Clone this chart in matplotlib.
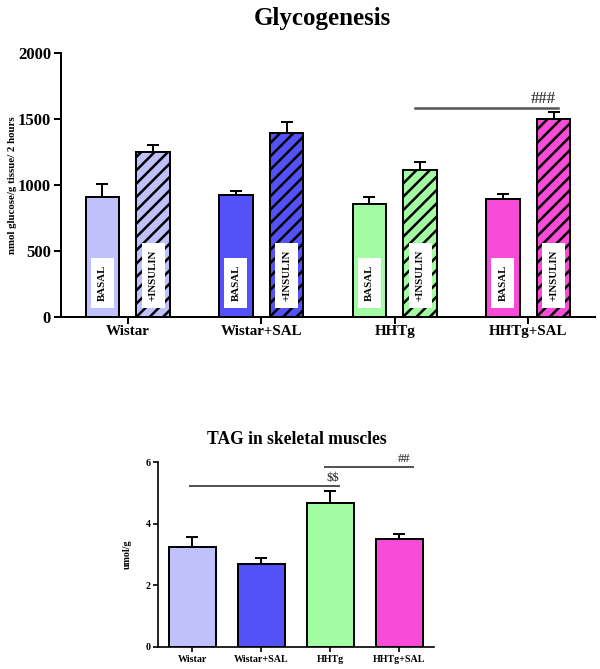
import matplotlib
matplotlib.use("Agg")
import matplotlib.pyplot as plt
import numpy as np

plt.rcParams['font.family'] = ['Liberation Serif', 'DejaVu Serif']
plt.rcParams['font.weight'] = 'bold'
plt.rcParams['hatch.linewidth'] = 1.5
plt.rcParams['text.parse_math'] = False

groups = ["Wistar", "Wistar+SAL", "HHTg", "HHTg+SAL"]
colors = ["#c0c0fc", "#5252f8", "#a2fca2", "#f84cd8"]

# Glycogenesis (nmol glucose/g tissue/2 hours)
basal = [910, 920, 855, 890]
basal_err = [95, 30, 50, 42]
insulin = [1245, 1390, 1115, 1500]
insulin_err = [53, 85, 60, 52]

# TAG in skeletal muscles (umol/g)
tag = [3.23, 2.68, 4.67, 3.49]
tag_err = [0.35, 0.22, 0.38, 0.16]

fig = plt.figure(figsize=(5, 5.575), dpi=120)

# ---------------- Top chart ----------------
ax = fig.add_axes([0.1017, 0.5262, 0.89, 0.395])
x = np.arange(len(groups))
off = 0.19
w = 0.25
ax.bar(x - off, basal, w, color=colors, edgecolor='black', linewidth=1.2, zorder=2)
ax.bar(x + off, insulin, w, color=colors, edgecolor='black', linewidth=1.2,
       hatch='///', zorder=2)
ax.errorbar(x - off, basal, yerr=[np.zeros(4), basal_err], fmt='none',
            ecolor='black', elinewidth=1.2, capsize=3.5, capthick=1.2, zorder=1)
ax.errorbar(x + off, insulin, yerr=[np.zeros(4), insulin_err], fmt='none',
            ecolor='black', elinewidth=1.2, capsize=3.5, capthick=1.2, zorder=1)

for i in range(len(groups)):
    ax.text(x[i] - off, 120, "BASAL", rotation=90, ha='center', va='bottom',
            fontsize=6.5, fontweight='bold',
            bbox=dict(boxstyle='square,pad=0.65', fc='white', ec='none'), zorder=4)
    ax.text(x[i] + off, 120, "+INSULIN", rotation=90, ha='center', va='bottom',
            fontsize=6.5, fontweight='bold',
            bbox=dict(boxstyle='square,pad=0.65', fc='white', ec='none'), zorder=4)

ax.plot([2.15, 3.22], [1578, 1578], color='#555555', lw=1.5, clip_on=False)
ax.text(3.21, 1590, "###", ha='right', va='bottom', fontsize=10, color='#444444')

ax.set_xlim(-0.5, 3.5)
ax.set_ylim(0, 2000)
ax.set_yticks([0, 500, 1000, 1500, 2000])
ax.set_xticks(x)
ax.set_xticklabels(groups, fontsize=9, fontweight='bold')
ax.tick_params(axis='y', labelsize=10, width=1.2, length=4, pad=2)
ax.tick_params(axis='x', width=1.2, length=4, pad=1)
for s in ['top', 'right']:
    ax.spines[s].set_visible(False)
for s in ['left', 'bottom']:
    ax.spines[s].set_linewidth(1.2)
ax.set_ylabel("nmol glucose/g tissue/ 2 hours", fontsize=6.5, fontweight='bold')
ax.yaxis.set_label_coords(-0.083, 0.5)
fig.text(322 / 600, 1 - 18 / 669, "Glycogenesis", ha='center', va='center',
         fontsize=15, fontweight='bold')

# ---------------- Bottom chart ----------------
ax2 = fig.add_axes([0.2633, 0.0329, 0.46, 0.2765])
ax2.bar(x, tag, 0.67, color=colors, edgecolor='black', linewidth=1.2, zorder=2)
ax2.errorbar(x, tag, yerr=[np.zeros(4), tag_err], fmt='none', ecolor='black',
             elinewidth=1.2, capsize=3.5, capthick=1.2, zorder=1)
ax2.plot([-0.03, 2.12], [5.22, 5.22], color='#555555', lw=1.2, clip_on=False)
ax2.text(2.04, 5.28, "$$", ha='center', va='bottom', fontsize=7.5, color='#444444')
ax2.plot([1.92, 3.19], [5.85, 5.85], color='#555555', lw=1.2, clip_on=False)
ax2.text(3.06, 5.91, "##", ha='center', va='bottom', fontsize=7.5, color='#444444',
         clip_on=False)
ax2.set_xlim(-0.5, 3.5)
ax2.set_ylim(0, 6)
ax2.set_yticks([0, 2, 4, 6])
ax2.set_xticks(x)
ax2.set_xticklabels(groups, fontsize=6, fontweight='bold')
ax2.tick_params(axis='y', labelsize=6, width=1.0, length=3, pad=1.5)
ax2.tick_params(axis='x', width=1.0, length=3, pad=2)
for s in ['top', 'right']:
    ax2.spines[s].set_visible(False)
for s in ['left', 'bottom']:
    ax2.spines[s].set_linewidth(1.0)
ax2.set_ylabel("umol/g", fontsize=6, fontweight='bold')
ax2.yaxis.set_label_coords(-0.095, 0.5)
fig.text(297 / 600, 1 - 439 / 669, "TAG in skeletal muscles", ha='center',
         va='center', fontsize=10.5, fontweight='bold')

fig.savefig("out.png", dpi=120)
